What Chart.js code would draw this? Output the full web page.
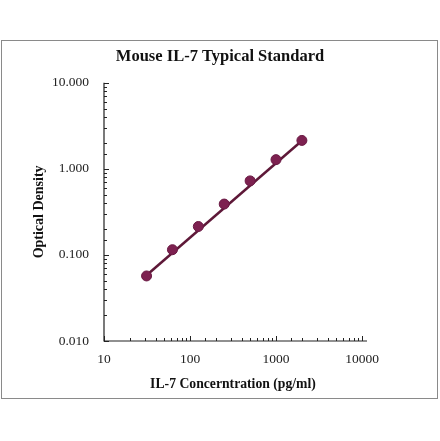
<!DOCTYPE html>
<html>
<head>
<meta charset="utf-8">
<script src="https://cdn.jsdelivr.net/npm/chart.js@4/dist/chart.umd.min.js"></script>
<style>
  html, body { margin: 0; padding: 0; background: #fff; }
  canvas { display: block; }
</style>
</head>
<body>
<canvas id="chart" width="440" height="441"></canvas>
<script>
// standard curve data
const concentrations = [31.25, 62.5, 125, 250, 500, 1000, 2000];
const odValues = [0.057, 0.115, 0.214, 0.39, 0.725, 1.28, 2.14];
// fitted line ends
const fitX = [31.25, 2000];
const fitY = [0.058, 2.12];
const xTicks = [10, 100, 1000, 10000];
const yTicks = [0.01, 0.1, 1, 10];

const serif = "'Liberation Serif', 'DejaVu Serif', serif";
const ink = '#222';

const isDecade = v => Math.abs(Math.log10(v) - Math.round(Math.log10(v))) < 1e-6;

// frame round the picture + inward minor ticks
const decorations = {
    id: 'decorations',
    beforeDraw(chart) {
        const c = chart.ctx;
        c.save();
        c.fillStyle = '#fff';
        c.fillRect(0, 0, chart.width, chart.height);
        c.strokeStyle = '#8a8a8a';
        c.lineWidth = 1;
        c.strokeRect(1.5, 40.5, 436, 358);
        c.restore();
    },
    afterDraw(chart) {
        const c = chart.ctx;
        const area = chart.chartArea;
        const xs = chart.scales.x, ys = chart.scales.y;
        c.save();
        c.strokeStyle = ink;
        c.lineWidth = 1;
        c.beginPath();
        xs.ticks.forEach(t => {
            const px = Math.round(xs.getPixelForValue(t.value)) + 0.5;
            const len = isDecade(t.value) ? 5 : 3;
            c.moveTo(px, area.bottom);
            c.lineTo(px, area.bottom - len);
        });
        ys.ticks.forEach(t => {
            const py = Math.round(ys.getPixelForValue(t.value)) + 0.5;
            const len = isDecade(t.value) ? 5 : 3;
            c.moveTo(area.left, py);
            c.lineTo(area.left + len, py);
        });
        c.stroke();
        // axis lines
        c.lineWidth = 1.2;
        c.beginPath();
        c.moveTo(area.left, area.top);
        c.lineTo(area.left, area.bottom);
        c.lineTo(area.right + 5, area.bottom);
        c.stroke();
        c.restore();
    }
};

new Chart(document.getElementById('chart'), {
    type: 'scatter',
    data: {
        datasets: [
            {
                label: 'Fit',
                data: fitX.map((x, i) => ({ x, y: fitY[i] })),
                showLine: true,
                borderColor: '#5e1838',
                borderWidth: 2.5,
                pointRadius: 0,
                order: 2
            },
            {
                label: 'Standard',
                data: concentrations.map((x, i) => ({ x, y: odValues[i] })),
                backgroundColor: '#7d2150',
                borderColor: '#6b1a44',
                borderWidth: 1,
                pointRadius: 5,
                order: 1
            }
        ]
    },
    options: {
        responsive: false,
        animation: false,
        layout: { padding: 0 },
        plugins: {
            legend: { display: false },
            tooltip: { enabled: false },
            title: {
                display: true,
                text: 'Mouse IL-7 Typical Standard',
                color: '#111',
                font: { family: serif, size: 16.5, weight: 'bold', lineHeight: 1.2 },
                padding: { top: 47, bottom: 16 }
            }
        },
        scales: {
            x: {
                type: 'logarithmic',
                min: 10,
                max: 10000,
                grid: { display: false, drawTicks: false },
                border: { display: false },
                afterFit: s => { s.height = 100; },
                ticks: {
                    color: ink,
                    padding: 10,
                    maxRotation: 0,
                    autoSkip: false,
                    font: { family: serif, size: 13.5 },
                    callback: v => xTicks.includes(v) ? String(v) : ''
                },
                title: {
                    display: true,
                    text: 'IL-7 Concerntration (pg/ml)',
                    color: '#111',
                    font: { family: serif, size: 13.7, weight: 'bold', lineHeight: 1.2 },
                    padding: { top: 0, bottom: 48 }
                }
            },
            y: {
                type: 'logarithmic',
                min: 0.01,
                max: 10,
                grid: { display: false, drawTicks: false },
                border: { display: false },
                afterFit: s => { s.width = 104; },
                ticks: {
                    color: ink,
                    padding: 15,
                    autoSkip: false,
                    font: { family: serif, size: 13.5 },
                    callback: v => yTicks.some(t => Math.abs(t - v) < 1e-9) ? v.toFixed(3) : ''
                },
                title: {
                    display: true,
                    text: 'Optical Density',
                    color: '#111',
                    font: { family: serif, size: 14, weight: 'bold', lineHeight: 1.2 },
                    padding: { top: 31, bottom: 0 }
                }
            },
            // empty right-hand box so the plot ends where the reference does
            spacer: {
                type: 'linear',
                position: 'right',
                display: true,
                grid: { display: false },
                border: { display: false },
                ticks: { display: false },
                afterFit: s => { s.width = 78; }
            }
        }
    },
    plugins: [decorations]
});
</script>
</body>
</html>
